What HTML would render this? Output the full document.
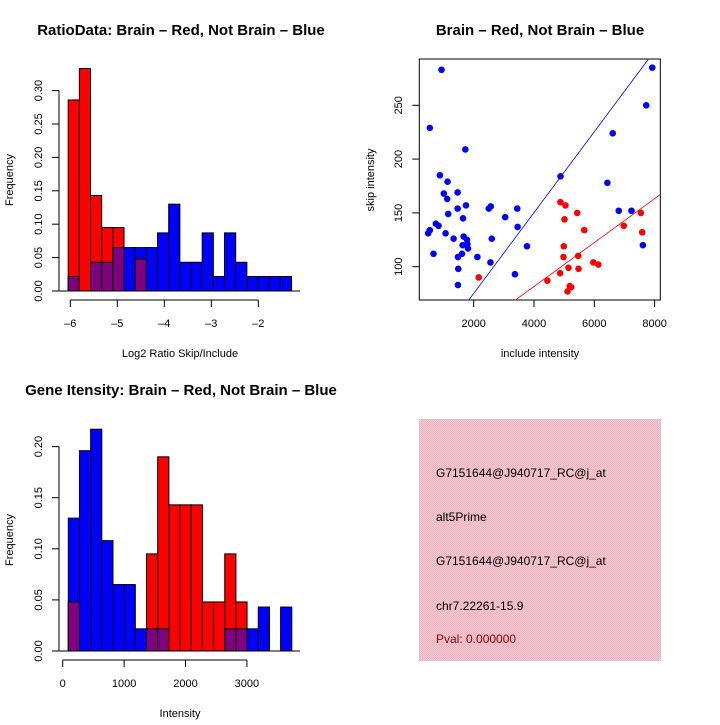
<!DOCTYPE html>
<html><head><meta charset="utf-8"><style>
body{margin:0;background:#fff;}
svg text{font-family:"Liberation Sans",sans-serif;}
</style></head><body>
<svg id="s" width="720" height="720" xmlns="http://www.w3.org/2000/svg">
<defs><pattern id="pk" width="2" height="2" patternUnits="userSpaceOnUse"><rect width="2" height="2" fill="#f7c8d2"/><rect width="1" height="1" fill="#eab4c0"/><rect x="1" y="1" width="1" height="1" fill="#eab4c0"/></pattern></defs>
<text x="181" y="35" font-size="15" font-weight="bold" text-anchor="middle">RatioData: Brain – Red, Not Brain – Blue</text>
<text x="540" y="35" font-size="15" font-weight="bold" text-anchor="middle">Brain – Red, Not Brain – Blue</text>
<text x="181" y="395" font-size="15" font-weight="bold" text-anchor="middle">Gene Itensity: Brain – Red, Not Brain – Blue</text>
<text x="180" y="357" font-size="11" text-anchor="middle">Log2 Ratio Skip/Include</text>
<text x="540" y="357" font-size="11" text-anchor="middle">include intensity</text>
<text x="180" y="717" font-size="11" text-anchor="middle">Intensity</text>
<text transform="translate(13,180) rotate(-90)" font-size="11" text-anchor="middle">Frequency</text>
<text transform="translate(13,540) rotate(-90)" font-size="11" text-anchor="middle">Frequency</text>
<text transform="translate(374,180) rotate(-90)" font-size="11" text-anchor="middle">skip intensity</text>
<rect x="419" y="419" width="242" height="242" fill="url(#pk)"/>
<g font-size="12">
<text x="436" y="477">G7151644@J940717_RC@j_at</text>
<text x="436" y="521">alt5Prime</text>
<text x="436" y="565">G7151644@J940717_RC@j_at</text>
<text x="436" y="610">chr7.22261-15.9</text>
<text x="436" y="643" fill="#8b0000">Pval: 0.000000</text>
</g>
</svg>
<script>
// Ratio histogram data
const ratioBlue=[0.0217,0,0.043,0.043,0.065,0.065,0.065,0.065,0.087,0.130,0.043,0.043,0.087,0.0217,0.087,0.043,0.0217,0.0217,0.0217,0.0217];
const ratioRed=[0.286,0.333,0.143,0.095,0.095,0,0.048,0,0,0,0,0,0,0,0,0,0,0,0,0];
const ratioXTicks=[-6,-5,-4,-3,-2];
const ratioYTicks=["0.00","0.05","0.10","0.15","0.20","0.25","0.30"];
// Intensity histogram data
const intBlue=[0.130,0.196,0.217,0.108,0.065,0.065,0.0217,0.0217,0.0217,0,0,0,0,0,0.0217,0.0217,0.0217,0.043,0,0.043];
const intRed=[0.048,0,0,0,0,0,0,0.095,0.190,0.143,0.143,0.143,0.048,0.048,0.095,0.048,0,0,0,0];
const intXTicks=[0,1000,2000,3000];
const intYTicks=["0.00","0.05","0.10","0.15","0.20"];
// Scatter data
const blueX=[489,545,545,667,745,834,878,933,1011,1122,1133,1155,1067,1333,1467,1467,1489,1478,1478,1611,1645,1633,1667,1722,1744,1778,1789,1811,2122,2500,2567,2556,2600,3044,3367,3444,3455,3767,4878,6433,6611,6811,7233,7611,7722,7922];
const blueY=[131,134,229,112,140,138,185,283,168,163,179,149,131,126,169,154,98,83,109,112,145,120,128,209,157,125,121,117,109,154,156,104,126,146,93,154,137,119,184,178,224,152,152,120,250,285];
const redX=[2167,4444,4878,4867,5044,5011,4989,4978,5144,5111,5189,5233,5433,5467,5478,5667,5967,6133,6978,7544,7589];
const redY=[90,87,160,94,157,144,119,109,99,77,82,81,150,110,98,134,104,102,138,150,132];
const scatterXTicks=[2000,4000,6000,8000];
const scatterYTicks=[100,150,200,250];
const blueSlope=0.03757, redSlope=0.0204;

const svg=document.getElementById('s');
const NS='http://www.w3.org/2000/svg';
function mk(tag,a){const e=document.createElementNS(NS,tag);for(const k in a)e.setAttribute(k,a[k]);svg.appendChild(e);return e;}

function hist(blue,red,x0,binW,ax,xTicks,yTicks,yStep,y0,pxPerUnit,axY,pxPerX,tickLabelY,prefix){
  const x=v=>ax+(v-xTicks[0])*pxPerX;
  const y=v=>y0-v*pxPerUnit;
  const bw=binW*pxPerX;
  for(let i=0;i<blue.length;i++){
    const left=x(x0+i*binW);
    const b=blue[i],r=red[i];
    if(b>0){const e=mk('rect',{x:left,y:y(b),width:bw,height:y(0)-y(b),fill:'#0000ff',stroke:'#000','stroke-width':1});
      
      }
    if(r>0){const e=mk('rect',{x:left,y:y(r),width:bw,height:y(0)-y(r),fill:'#ff0000',stroke:'#000','stroke-width':1});
      
      }
    if(b>0&&r>0){const m=Math.min(b,r);const e=mk('rect',{x:left,y:y(m),width:bw,height:y(0)-y(m),fill:'#800080',stroke:'#000','stroke-width':1});
      
      }
  }
  const yt=yTicks.length-1;
  const ya=mk('line',{x1:59,x2:59,y1:y(0),y2:y(yt*yStep),stroke:'#000'});
  
  
  yTicks.forEach((t,i)=>{const yy=y(i*yStep);mk('line',{x1:52,x2:59,y1:yy,y2:yy,stroke:'#000'});
    const tx=mk('text',{transform:`translate(42,${yy}) rotate(-90)`,'font-size':11,'text-anchor':'middle'});tx.textContent=t;
    
    });
  const xa=mk('line',{x1:x(xTicks[0]),x2:x(xTicks[xTicks.length-1]),y1:axY,y2:axY,stroke:'#000'});
  
  
  xTicks.forEach(t=>{const xx=x(t);mk('line',{x1:xx,x2:xx,y1:axY,y2:axY+7,stroke:'#000'});
    const tx=mk('text',{x:xx,y:tickLabelY,'font-size':11,'text-anchor':'middle'});tx.textContent=String(t).replace('-','–');
    
    });
  mk('line',{x1:52,x2:300,y1:y0,y2:y0,stroke:'#000'});
}
hist(ratioBlue,ratioRed,-6.045,0.2376,70.3,ratioXTicks,ratioYTicks,0.05,291,668,300,47,327,'ratio');
hist(intBlue,intRed,91,182,62.7,intXTicks,intYTicks,0.05,651,1022,660,0.0614,687,'intensity');

const sx=v=>473.7+(v-2000)*0.03015;
const sy=v=>266.7-(v-100)*1.076;
const L=419.3,R=660.3,T=59,B=300;
const clip=mk('clipPath',{id:'sc'});const cr=document.createElementNS(NS,'rect');cr.setAttribute('x',L);cr.setAttribute('y',T);cr.setAttribute('width',R-L);cr.setAttribute('height',B-T);clip.appendChild(cr);
const box=mk('rect',{x:L,y:T,width:R-L,height:B-T,fill:'none',stroke:'#000'});


[[blueSlope,'#0000ff','blue-fit-line'],[redSlope,'#ff0000','red-fit-line']].forEach(([m,c,n])=>{
  const e=mk('line',{x1:sx(0),y1:sy(0),x2:sx(9000),y2:sy(9000*m),stroke:c,'stroke-width':0.8,'clip-path':'url(#sc)'});
  
  });
blueX.forEach((v,i)=>{const e=mk('circle',{cx:sx(v),cy:sy(blueY[i]),r:3.3,fill:'#0000ff'});
  
  });
redX.forEach((v,i)=>{const e=mk('circle',{cx:sx(v),cy:sy(redY[i]),r:3.3,fill:'#ff0000'});
  
  });
scatterXTicks.forEach(t=>{const xx=sx(t);mk('line',{x1:xx,x2:xx,y1:B,y2:B+7,stroke:'#000'});
  const tx=mk('text',{x:xx,y:327,'font-size':11,'text-anchor':'middle'});tx.textContent=t;
  
  });
scatterYTicks.forEach(t=>{const yy=sy(t);mk('line',{x1:L-7,x2:L,y1:yy,y2:yy,stroke:'#000'});
  const tx=mk('text',{transform:`translate(402,${yy}) rotate(-90)`,'font-size':11,'text-anchor':'middle'});tx.textContent=t;
  
  });
</script>
</body></html>
